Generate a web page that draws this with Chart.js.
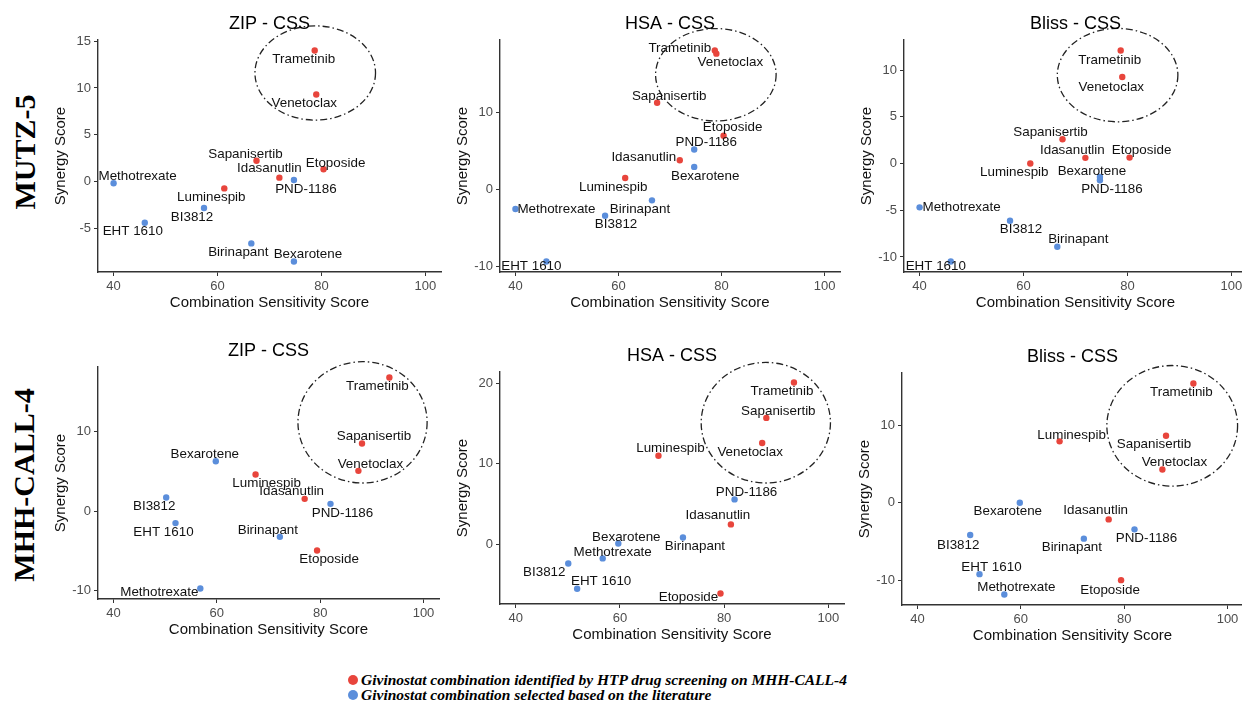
<!DOCTYPE html>
<html>
<head>
<meta charset="utf-8">
<script src="https://cdn.jsdelivr.net/npm/chart.js@4.4.1/dist/chart.umd.min.js"></script>
<style>
html, body { margin: 0; padding: 0; background: #fff; width: 1242px; height: 717px; overflow: hidden; position: relative; }
canvas { position: absolute; }
.row { position: absolute; font: bold 30px "Liberation Serif", "Times New Roman", serif; color: #000;
  transform: translate(-50%, -50%) rotate(-90deg); white-space: nowrap; }
.leg { position: absolute; left: 348px; font: italic bold 15.5px "Liberation Serif", "Times New Roman", serif;
  line-height: 15px; color: #000; white-space: nowrap; }
.leg span { display: inline-block; width: 10px; height: 10px; border-radius: 50%; margin-right: 3px; vertical-align: 0px; }
</style>
</head>
<body>
<div class="row" style="left:25px;top:152px">MUTZ-5</div>
<div class="row" style="left:24px;top:485px">MHH-CALL-4</div>
<div class="leg" style="top:672px"><span style="background:#E8453C"></span>Givinostat combination identified by HTP drug screening on MHH-CALL-4</div>
<div class="leg" style="top:687px"><span style="background:#5B8EDB"></span>Givinostat combination selected based on the literature</div>

<script>
// drug order used by every array below
const drugs = ['Trametinib', 'Venetoclax', 'Sapanisertib', 'Idasanutlin', 'Etoposide', 'Luminespib',
  'PND-1186', 'Bexarotene', 'Birinapant', 'BI3812', 'EHT 1610', 'Methotrexate'];
// 1 = found by HTP screening (red), 0 = chosen from literature (blue)
const fromScreen = [1, 1, 1, 1, 1, 1, 0, 0, 0, 0, 0, 0];
const xTicks = [40, 60, 80, 100];

// combination sensitivity score (x)
const cssMutz5 = [78.7, 79.0, 67.5, 71.9, 80.4, 61.3, 74.7, 74.7, 66.5, 57.4, 46.0, 40.0];
const cssMhh = [93.4, 87.4, 88.1, 77.0, 79.4, 67.5, 82.0, 59.8, 72.2, 50.2, 52.0, 56.8];
const cssMhhHsa = [93.4, 87.3, 88.1, 81.3, 79.3, 67.4, 82.0, 59.7, 72.1, 50.1, 51.8, 56.7];

// synergy scores (y)
const zipMutz5 = [14.0, 9.3, 2.2, 0.4, 1.3, -0.75, 0.15, -8.57, -6.64, -2.85, -4.43, -0.2];
const hsaMutz5 = [18.0, 17.6, 11.25, 3.8, 6.97, 1.51, 5.19, 2.94, -1.39, -3.38, -9.3, -2.51];
const blissMutz5 = [12.1, 9.27, 2.61, 0.61, 0.64, 0.0, -1.79, -1.43, -8.9, -6.12, -10.48, -4.69];
const zipMhh = [16.85, 5.08, 8.53, 1.55, -4.96, 4.62, 0.92, 6.3, -3.24, 1.72, -1.51, -9.75];
const hsaMhh = [20.1, 12.57, 15.7, 2.45, -6.14, 11.0, 5.56, 0.08, 0.83, -2.41, -5.56, -1.78];
const blissMhh = [15.34, 4.27, 8.63, -2.14, -9.96, 7.9, -3.42, 0.0, -4.62, -4.15, -9.19, -11.8];

// y tick labels per panel
const yTicksZipMutz5 = [-5, 0, 5, 10, 15];
const yTicksHsaMutz5 = [-10, 0, 10];
const yTicksBlissMutz5 = [-10, -5, 0, 5, 10];
const yTicksZipMhh = [-10, 0, 10];
const yTicksHsaMhh = [0, 10, 20];
const yTicksBlissMhh = [-10, 0, 10];

// label offsets in px (text centre relative to point)
const offZipMutz5 = [[-11,9],[-12,9],[-11,-7],[-10,-9],[12,-6],[-13,9],[12,9],[14,-7],[-13,9],[-12,9],[-12,9],[24,-7]];
const offHsaMutz5 = [[-35,-2],[14,9],[12,-6],[-36,-3],[9,-8],[-12,9],[12,-7],[11,9],[-12,9],[11,9],[-15,5],[41,0]];
const offBlissMutz5 = [[-11,10],[-11,10],[-12,-7],[-13,-8],[12,-7],[-16,9],[12,9],[-8,-6],[21,-7],[11,9],[-15,5],[42,0]];
const offZipMhh = [[-12,9],[12,-7],[12,-7],[-13,-8],[12,9],[11,9],[12,9],[-11,-7],[-12,-7],[-12,9],[-12,9],[-41,4]];
const offHsaMhh = [[-12,9],[-12,9],[12,-7],[-13,-9],[-32,4],[12,-7],[12,-7],[8,-6],[12,9],[-24,9],[24,-7],[10,-6]];
const offBlissMhh = [[-12,9],[12,-7],[-12,9],[-13,-9],[-11,10],[12,-6],[12,9],[-12,9],[-12,9],[-12,10],[12,-7],[12,-7]];

const FONT = '"Liberation Sans", Arial, Helvetica, sans-serif';
const RED = '#E8453C', BLUE = '#5B8EDB';

const panels = [
  { title: 'ZIP - CSS', x: cssMutz5, y: zipMutz5, yt: yTicksZipMutz5, off: offZipMutz5, box: [98, 40, 345, 232], ring: [78.8, 11.6, 11.6, 5.04] },
  { title: 'HSA - CSS', x: cssMutz5, y: hsaMutz5, yt: yTicksHsaMutz5, off: offHsaMutz5, box: [500, 40, 342, 232], ring: [78.9, 14.87, 11.7, 5.98] },
  { title: 'Bliss - CSS', x: cssMutz5, y: blissMutz5, yt: yTicksBlissMutz5, off: offBlissMutz5, box: [904, 40, 345, 232], ring: [78.1, 9.47, 11.6, 5.0] },
  { title: 'ZIP - CSS', x: cssMhh, y: zipMhh, yt: yTicksZipMhh, off: offZipMhh, box: [98, 367, 343, 232], ring: [88.2, 11.2, 12.5, 7.65] },
  { title: 'HSA - CSS', x: cssMhhHsa, y: hsaMhh, yt: yTicksHsaMhh, off: offHsaMhh, box: [500, 372, 346, 232], ring: [88.0, 15.1, 12.4, 7.5] },
  { title: 'Bliss - CSS', x: cssMhh, y: blissMhh, yt: yTicksBlissMhh, off: offBlissMhh, box: [902, 373, 343, 232], ring: [89.3, 9.9, 12.65, 7.76] }
];

function marks(p) {
  return {
    id: 'marks',
    beforeDatasetsDraw(chart) {
      const { ctx, scales: { x, y } } = chart;
      const [cx, cy, rx, ry] = p.ring;
      const px = x.getPixelForValue(cx), py = y.getPixelForValue(cy);
      ctx.save();
      ctx.strokeStyle = '#222';
      ctx.lineWidth = 1.3;
      ctx.setLineDash([7, 3, 1.5, 3]);
      ctx.beginPath();
      ctx.ellipse(px, py, Math.abs(x.getPixelForValue(cx + rx) - px), Math.abs(y.getPixelForValue(cy + ry) - py), 0, 0, Math.PI * 2);
      ctx.stroke();
      ctx.restore();
    },
    afterDatasetsDraw(chart) {
      const { ctx, chartArea, scales: { x, y } } = chart;
      ctx.save();
      ctx.textAlign = 'center';
      ctx.textBaseline = 'middle';
      ctx.font = '13.4px ' + FONT;
      ctx.fillStyle = '#111';
      drugs.forEach((d, i) => {
        ctx.fillText(d, x.getPixelForValue(p.x[i]) + p.off[i][0], y.getPixelForValue(p.y[i]) + p.off[i][1]);
      });
      ctx.font = '18px ' + FONT;
      ctx.fillStyle = '#000';
      ctx.fillText(p.title, (chartArea.left + chartArea.right) / 2, chartArea.top - 16);
      ctx.restore();
    }
  };
}

const asTicks = list => a => { a.ticks = list.map(v => ({ value: v })); };

panels.forEach(p => {
  const [L, T, W, H] = p.box;
  const cv = document.createElement('canvas');
  cv.width = W + 62;
  cv.height = H + 100;
  cv.style.left = (L - 60) + 'px';
  cv.style.top = (T - 40) + 'px';
  document.body.appendChild(cv);

  const lo = Math.min(...p.y), hi = Math.max(...p.y);
  const pad = (hi - lo) * 0.05;
  const pts = g => drugs.map((d, i) => ({ x: p.x[i], y: p.y[i], g: fromScreen[i] })).filter(o => o.g === g);

  new Chart(cv, {
    type: 'scatter',
    data: {
      datasets: [
        { data: pts(0), backgroundColor: BLUE, pointRadius: 3.2, borderWidth: 0 },
        { data: pts(1), backgroundColor: RED, pointRadius: 3.2, borderWidth: 0 }
      ]
    },
    options: {
      responsive: false,
      animation: false,
      devicePixelRatio: 1,
      events: [],
      layout: { padding: { top: 40, right: 2, left: 0, bottom: 0 } },
      plugins: { legend: { display: false }, tooltip: { enabled: false }, title: { display: false } },
      scales: {
        x: {
          type: 'linear',
          min: xTicks[0] - 3,
          max: xTicks[xTicks.length - 1] + 3,
          afterBuildTicks: asTicks(xTicks),
          afterFit: a => { a.height = 60; },
          border: { color: '#333', width: 1.4 },
          grid: { drawOnChartArea: false, tickLength: 4, color: '#333' },
          ticks: { color: '#4d4d4d', padding: 3, font: { size: 13, family: FONT } },
          title: { display: true, text: 'Combination Sensitivity Score', color: '#111', font: { size: 15, family: FONT }, padding: { top: 0, bottom: 20 } }
        },
        y: {
          type: 'linear',
          min: lo - pad,
          max: hi + pad,
          afterBuildTicks: asTicks(p.yt),
          afterFit: a => { a.width = 60; },
          border: { color: '#333', width: 1.4 },
          grid: { drawOnChartArea: false, tickLength: 4, color: '#333' },
          ticks: { color: '#4d4d4d', padding: 3, font: { size: 13, family: FONT } },
          title: { display: true, text: 'Synergy Score', color: '#111', font: { size: 15, family: FONT }, padding: { top: 14, bottom: 0 } }
        }
      }
    },
    plugins: [marks(p)]
  });
});
</script>
</body>
</html>
